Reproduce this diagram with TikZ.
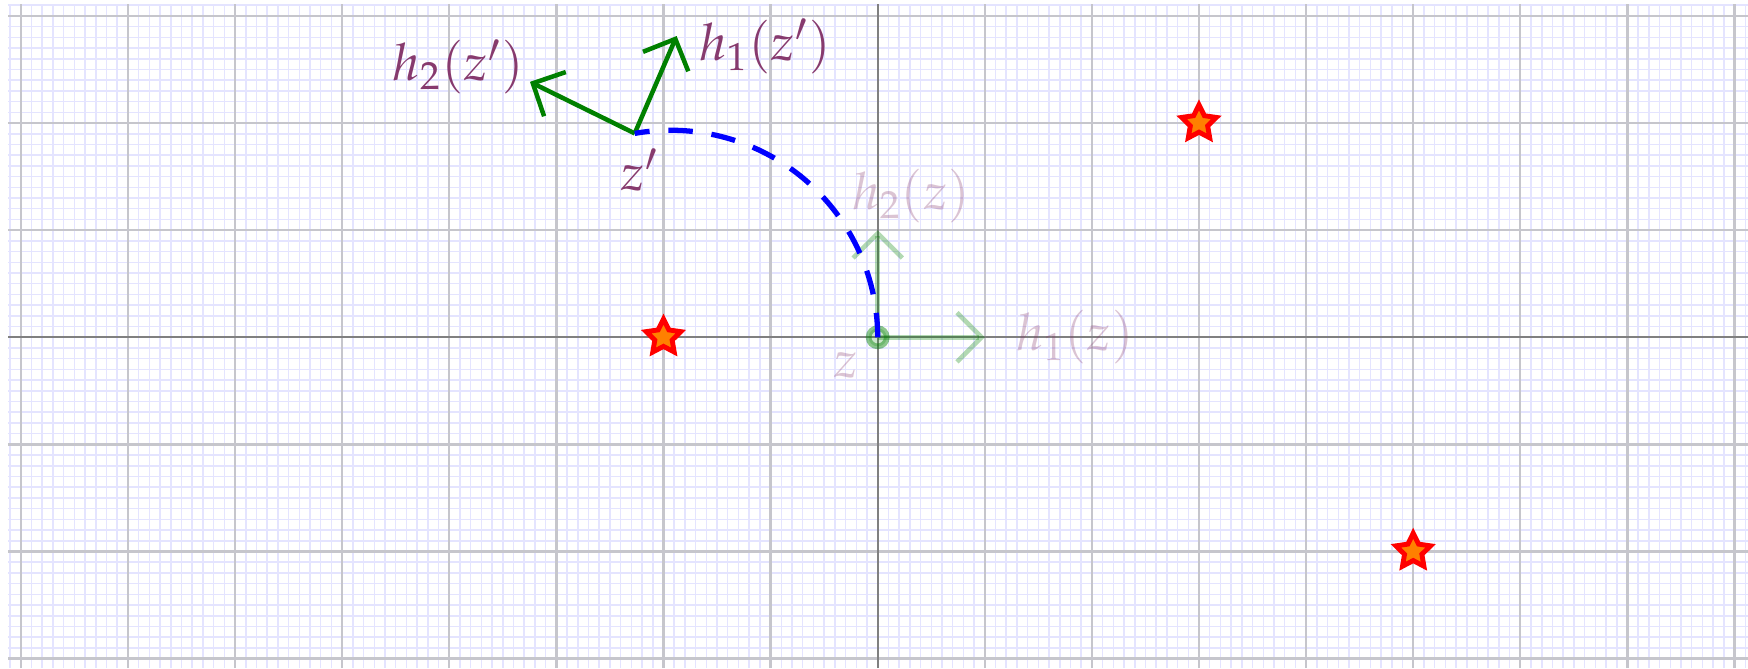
\documentclass[tikz,border=0pt]{standalone}
\usepackage{amsmath}
\usepackage{mathpazo}
\usepackage{tikz}
\usetikzlibrary{shapes.geometric, arrows.meta, positioning, calc}

\definecolor{labelcol}{RGB}{135,58,110}
\definecolor{minorcol}{RGB}{228,228,255}
\definecolor{majorcol}{RGB}{198,198,204}

\begin{document}
\begin{tikzpicture}[
    vec/.style={draw=green!50!black, very thick, -{Straight Barb[length=2.3mm, width=4.6mm]}},
    faded/.style={opacity=0.3},
    lab/.style={text=labelcol, font=\fontsize{13.7pt}{16pt}\selectfont},
    pole/.style={star, star points=5, star point ratio=2, draw=red, fill=orange, line width=1.3pt, minimum size=0.34cm, inner sep=0pt},
    geo/.style={blue, line width=1.4pt, dash pattern=on 6.5pt off 5pt}
]
    \useasboundingbox (-8.195,-3.088) rectangle (8.126,3.149);
    % Grid
    \draw[minorcol, line width=0.4pt, step=0.1] (-8.12,-3.09) grid (8.126,3.11);
    \draw[majorcol, line width=0.6pt, step=1] (-8.12,-3.09) grid (8.126,3.11);
    \draw[gray, line width=0.6pt] (-8.12,0) -- (8.126,0) (0,-3.09) -- (0,3.11);

    % Define points
    \coordinate (z) at (0,0);
    \coordinate (c) at (-1.933,0);
    \coordinate (zp) at ($(c)+(100:1.933)$);
    \coordinate (h1) at (1,0);
    \coordinate (h2) at (0,1);
    \coordinate (h1p) at ($(zp)+(66.7:0.99)$);
    \coordinate (h2p) at ($(zp)+(153.8:1.09)$);

    % Stars
    \node[pole] (p1) at (-2,0) {};
    \node[pole] (p2) at (3,2) {};
    \node[pole] (p3) at (5,-2) {};

    % Frame at z (faded)
    \draw[vec, faded] (z) -- (h1);
    \draw[vec, faded] (z) -- (h2);
    \draw[green!50!black, line width=1.5pt, fill=green!50!black, fill opacity=0.2, draw opacity=0.45] (z) circle (0.085);
    \node[lab, faded, right=0.17 of h1] (l1) {$h_1(z)$};
    \node[lab, faded, above right=-0.06 and -0.36 of h2] (l2) {$h_2(z)$};
    \node[lab, faded, below left=0.02 and 0.06 of z] (lz) {$z$};

    % Frame at z'
    \draw[vec] (zp) -- (h1p);
    \draw[vec] (zp) -- (h2p);
    \draw[geo] (z) arc[start angle=0, end angle=100, radius=1.933];
    \node[lab, right=0.09 of h1p, yshift=-0.1cm] (l1p) {$h_1(z')$};
    \node[lab, left=-0.07 of h2p, yshift=0.14cm] (l2p) {$h_2(z')$};
    \node[lab, below=0.02 of zp, xshift=0.05cm] (lzp) {$z'$};
\end{tikzpicture}
\end{document}
